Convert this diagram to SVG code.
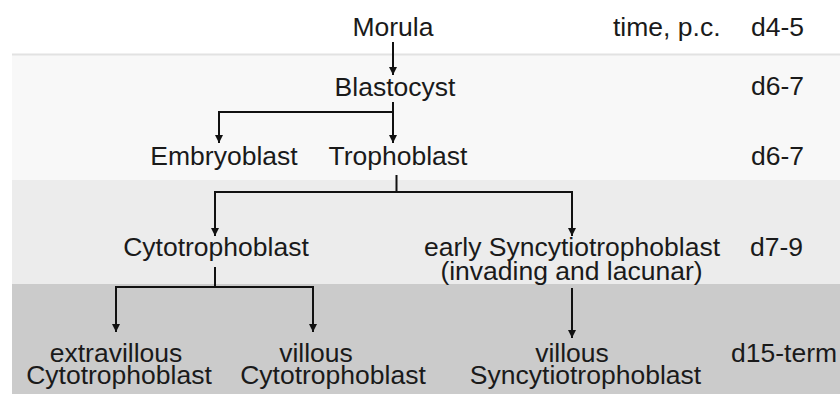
<svg xmlns="http://www.w3.org/2000/svg" width="840" height="394" viewBox="0 0 840 394">
  <defs>
    <marker id="arr" viewBox="0 0 10 10" refX="10" refY="5" markerWidth="4" markerHeight="5" markerUnits="strokeWidth" orient="auto">
      <path d="M0,0 L10,5 L0,10 z" fill="#111"/>
    </marker>
  </defs>
  <style>
    text { font-family: "Liberation Sans", Arial, sans-serif; font-size: 26.5px; fill: #1a1a1a; }
    .c { text-anchor: middle; }
    .ln { fill: none; stroke: #111; stroke-width: 2; }
    .ar { fill: none; stroke: #111; stroke-width: 2; marker-end: url(#arr); }
  </style>
  <rect width="840" height="394" fill="#ffffff"/>
  <g id="bands">
    <rect x="12" y="54" width="828" height="126" fill="#f8f8f8"/>
    <line x1="12" y1="54.5" x2="840" y2="54.5" stroke="#e2e2e2" stroke-width="2"/>
    <rect x="12" y="180" width="828" height="104" fill="#ececec"/>
    <rect x="12" y="284" width="828" height="110" fill="#cbcbcb"/>
  </g>
  <g id="connectors">
    <line class="ar" x1="393" y1="42" x2="393" y2="75"/>
    <path class="ln" d="M393,102 V112 H219"/>
    <line class="ar" x1="393" y1="112" x2="393" y2="143"/>
    <line class="ar" x1="219" y1="111" x2="219" y2="143"/>
    <path class="ln" d="M396.5,175 V192"/>
    <path class="ln" d="M215,192 H572"/>
    <line class="ar" x1="215" y1="191" x2="215" y2="236"/>
    <line class="ar" x1="572" y1="191" x2="572" y2="236"/>
    <path class="ln" d="M215,267 V287"/>
    <path class="ln" d="M116,287 H313"/>
    <line class="ar" x1="116" y1="286" x2="116" y2="332"/>
    <line class="ar" x1="313" y1="286" x2="313" y2="332"/>
    <line class="ar" x1="572" y1="288" x2="572" y2="338"/>
  </g>
  <g id="morula"><text class="c" x="393" y="35.5">Morula</text></g>
  <g id="time-label"><text x="613" y="35.5">time, p.c.</text></g>
  <g id="t1"><text x="751" y="35.5">d4-5</text></g>
  <g id="blastocyst"><text class="c" x="395" y="96">Blastocyst</text></g>
  <g id="t2"><text x="751" y="95">d6-7</text></g>
  <g id="embryoblast"><text class="c" x="224" y="165">Embryoblast</text></g>
  <g id="trophoblast"><text class="c" x="398" y="165">Trophoblast</text></g>
  <g id="t3"><text x="751" y="165">d6-7</text></g>
  <g id="cytotrophoblast"><text class="c" x="216" y="256">Cytotrophoblast</text></g>
  <g id="early-syncytio">
    <text class="c" x="572" y="256">early Syncytiotrophoblast</text>
    <text class="c" x="571.5" y="280">(invading and lacunar)</text>
  </g>
  <g id="t4"><text x="750" y="256">d7-9</text></g>
  <g id="extravillous-cyto">
    <text class="c" x="116" y="361.5">extravillous</text>
    <text class="c" x="119" y="383.5">Cytotrophoblast</text>
  </g>
  <g id="villous-cyto">
    <text class="c" x="316" y="361.5">villous</text>
    <text class="c" x="333" y="383.5">Cytotrophoblast</text>
  </g>
  <g id="villous-syncytio">
    <text class="c" x="572" y="361.5">villous</text>
    <text class="c" x="585.5" y="383.5">Syncytiotrophoblast</text>
  </g>
  <g id="t5"><text x="731" y="361.5">d15-term</text></g>
</svg>
